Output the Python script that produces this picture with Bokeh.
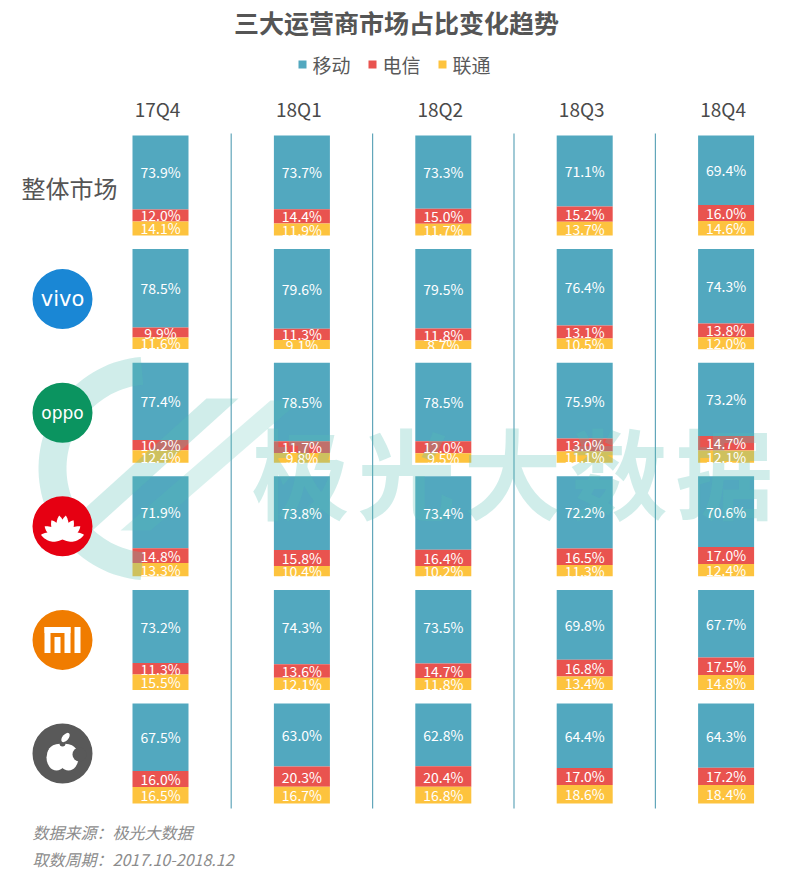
import numpy as np
from bokeh.plotting import figure
from bokeh.models import Range1d, ColumnDataSource
from bokeh.core.properties import value
from bokeh.embed import file_html
from bokeh.resources import INLINE

# ---------------- data ----------------
title = "三大运营商市场占比变化趋势"
series_names = ["移动", "电信", "联通"]
quarters = ["17Q4", "18Q1", "18Q2", "18Q3", "18Q4"]
rows = ["整体市场", "vivo", "oppo", "华为", "小米", "苹果"]

mobile = [
    [73.9, 73.7, 73.3, 71.1, 69.4],
    [78.5, 79.6, 79.5, 76.4, 74.3],
    [77.4, 78.5, 78.5, 75.9, 73.2],
    [71.9, 73.8, 73.4, 72.2, 70.6],
    [73.2, 74.3, 73.5, 69.8, 67.7],
    [67.5, 63.0, 62.8, 64.4, 64.3],
]
telecom = [
    [12.0, 14.4, 15.0, 15.2, 16.0],
    [9.9, 11.3, 11.8, 13.1, 13.8],
    [10.2, 11.7, 12.0, 13.0, 14.7],
    [14.8, 15.8, 16.4, 16.5, 17.0],
    [11.3, 13.6, 14.7, 16.8, 17.5],
    [16.0, 20.3, 20.4, 17.0, 17.2],
]
unicom = [
    [14.1, 11.9, 11.7, 13.7, 14.6],
    [11.6, 9.1, 8.7, 10.5, 12.0],
    [12.4, 9.8, 9.5, 11.1, 12.1],
    [13.3, 10.4, 10.2, 11.3, 12.4],
    [15.5, 12.1, 11.8, 13.4, 14.8],
    [16.5, 16.7, 16.8, 18.6, 18.4],
]
source_note = "数据来源：极光大数据"
period_note = "取数周期：2017.10-2018.12"

# ---------------- layout / style ----------------
W, H = 794, 875
COL0, COL_STEP = 160.0, 141.4
ROW0, ROW_STEP = 135.0, 113.6
BAR_W = 56
PX_PER_PCT = 1.0
C_MOB, C_TEL, C_UNI = "#52A8BF", "#E9534F", "#FDC33E"
FONT = value("Noto Sans CJK SC")

p = figure(width=W, height=H, x_range=Range1d(0, W), y_range=Range1d(H, 0),
           output_backend="svg", toolbar_location=None, min_border=0)
p.axis.visible = False
p.grid.visible = False
p.outline_line_color = None
p.background_fill_color = "white"
p.border_fill_color = "white"

# ---------- stacked bars ----------
segs = {k: dict(x=[], top=[], bottom=[], mid=[], label=[]) for k in ("m", "t", "u")}
for j in range(len(rows)):
    for i in range(len(quarters)):
        x = COL0 + i * COL_STEP
        y0 = ROW0 + j * ROW_STEP
        cur = y0
        for key, arr in (("m", mobile), ("t", telecom), ("u", unicom)):
            v = arr[j][i]
            y1 = cur + v * PX_PER_PCT
            segs[key]["x"].append(x)
            segs[key]["top"].append(cur)
            segs[key]["bottom"].append(y1)
            segs[key]["mid"].append((cur + y1) / 2)
            segs[key]["label"].append(f"{v:.1f}%")
            cur = y1

for key, col in (("m", C_MOB), ("t", C_TEL), ("u", C_UNI)):
    src = ColumnDataSource(segs[key])
    p.vbar(x="x", top="top", bottom="bottom", width=BAR_W, source=src,
           fill_color=col, line_color=None)

# separators between quarter columns
sep_x = [COL0 + (i + 0.5) * COL_STEP for i in range(len(quarters) - 1)]
p.segment(x0=sep_x, y0=[133] * len(sep_x), x1=sep_x, y1=[808] * len(sep_x),
          line_color="#62A6BA", line_width=1.2)

# ---------- watermark ----------
WM = "#57BFB2"
WA = 0.28
th = np.linspace(np.radians(95), np.radians(265), 60)
cx, cy, r_out, r_in = 150, 468, 112, 84
xs = list(cx + r_out * np.cos(th)) + list(cx + r_in * np.cos(th[::-1]))
ys = list(cy - r_out * np.sin(th)) + list(cy - r_in * np.sin(th[::-1]))
p.patch(xs, ys, fill_color=WM, fill_alpha=WA, line_color=None)
p.patch([40, 72, 238, 206], [548, 548, 398, 398], fill_color=WM, fill_alpha=WA, line_color=None)
p.patch([120, 150, 300, 270], [530, 530, 400, 400], fill_color=WM, fill_alpha=WA * 0.8, line_color=None)
wm_chars = list("极光大数据")
wm_x = [300 + k * 106 for k in range(5)]
p.text(x=wm_x, y=[468] * 5, text=wm_chars, text_align="center", text_baseline="middle",
       text_font=FONT, text_font_size="98px", text_font_style="bold",
       text_color=WM, text_alpha=WA)

# ---------- value labels ----------
for key in ("m", "t", "u"):
    src = ColumnDataSource(segs[key])
    p.text(x="x", y="mid", text="label", source=src, text_align="center",
           text_baseline="middle", text_font=FONT, text_font_size="14px",
           text_color="white")

# ---------- titles / headers ----------
p.text(x=[396], y=[21], text=[title], text_align="center", text_baseline="middle",
       text_font=FONT, text_font_size="25px", text_font_style="bold", text_color="#555555")

leg_x = [302, 372, 442]
p.rect(x=leg_x, y=[64] * 3, width=8, height=8, fill_color=[C_MOB, C_TEL, C_UNI], line_color=None)
p.text(x=[x + 10 for x in leg_x], y=[64] * 3, text=series_names, text_align="left",
       text_baseline="middle", text_font=FONT, text_font_size="19px", text_color="#595959")

p.text(x=[COL0 + i * COL_STEP - 3 for i in range(len(quarters))], y=[108] * len(quarters),
       text=quarters, text_align="center", text_baseline="middle", text_font=FONT,
       text_font_size="19px", text_font_style="normal", text_color="#4a4a4a")

# ---------- row labels / logos ----------
LX = 62
row_c = [ROW0 + j * ROW_STEP + 50 for j in range(len(rows))]
p.text(x=[69], y=[row_c[0] + 2], text=[rows[0]], text_align="center", text_baseline="middle",
       text_font=FONT, text_font_size="24px", text_color="#555555")

# vivo
p.circle(x=[LX], y=[row_c[1]], radius=30, fill_color="#1A87D5", line_color=None)
p.text(x=[LX], y=[row_c[1]], text=["vivo"], text_align="center", text_baseline="middle",
       text_font=value("DejaVu Sans"), text_font_size="21px", text_color="white")
# oppo
p.circle(x=[LX], y=[row_c[2]], radius=30, fill_color="#0B9460", line_color=None)
p.text(x=[LX], y=[row_c[2]], text=["oppo"], text_align="center", text_baseline="middle",
       text_font=value("DejaVu Sans"), text_font_size="17px", text_color="white")
# huawei
p.circle(x=[LX], y=[row_c[3]], radius=30, fill_color="#E60012", line_color=None)
bx, by = LX, row_c[3] + 13
pxs, pys = [], []
for ang in [12, 36, 60, 82, 98, 120, 144, 168]:
    a = np.radians(ang)
    L, Wd = (24 if ang in (82, 98) else 22), 4.5
    along = np.concatenate([np.linspace(0, L, 20), np.linspace(L, 0, 20)])
    wid = np.concatenate([Wd * np.sin(np.linspace(0, np.pi, 20)) ** 0.8,
                          -Wd * np.sin(np.linspace(np.pi, 0, 20)) ** 0.8])
    dx, dy = np.cos(a), -np.sin(a)
    nx, ny = -dy, dx
    pxs.append(list(bx + along * dx + wid * nx))
    pys.append(list(by + along * dy + wid * ny))
p.patches(pxs, pys, fill_color="white", line_color=None)
# mi
p.circle(x=[LX], y=[row_c[4]], radius=30, fill_color="#F07C00", line_color=None)
my = row_c[4]
p.quad(left=[44, 44, 64, 54, 74], right=[70, 50, 70, 60, 80],
       top=[my - 13, my - 13, my - 13, my - 3, my - 13],
       bottom=[my - 7, my + 13, my + 13, my + 13, my + 13],
       fill_color="white", line_color=None)
# apple
ay = row_c[5]
p.circle(x=[LX], y=[ay], radius=30, fill_color="#595959", line_color=None)
p.ellipse(x=[LX - 6, LX + 6], y=[ay + 4, ay + 4], width=20, height=26, fill_color="white", line_color=None)
p.ellipse(x=[LX], y=[ay + 1], width=30, height=22, fill_color="white", line_color=None)
p.circle(x=[LX + 17], y=[ay + 1], radius=7, fill_color="#595959", line_color=None)
p.circle(x=[LX], y=[ay - 10], radius=3, fill_color="#595959", line_color=None)
p.ellipse(x=[LX + 3], y=[ay - 16], width=6, height=11, angle=-0.7, fill_color="white", line_color=None)

# ---------- footer ----------
p.text(x=[32, 32], y=[831, 858], text=[source_note, period_note], text_align="left",
       text_baseline="middle", text_font=FONT, text_font_size="16px",
       text_font_style="italic", text_color="#8C8C8C")

open("out.html", "w").write(file_html(p, INLINE))
